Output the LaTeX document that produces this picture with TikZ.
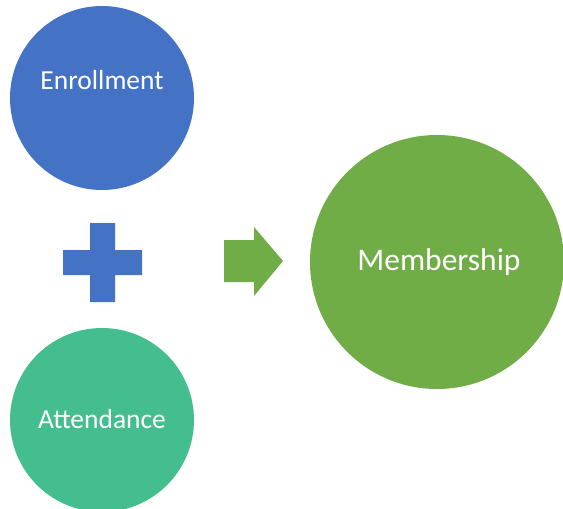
\documentclass[tikz,border=0pt]{standalone}
\usepackage{fontspec}
\setmainfont{Carlito}
\definecolor{cblue}{HTML}{4472C4}
\definecolor{cgreen}{HTML}{70AD47}
\definecolor{cteal}{HTML}{44BE8E}
\begin{document}
\begin{tikzpicture}[x=1pt,y=-1pt,
  blob/.style={circle,inner sep=0pt,text=white},
  lbl/.style={text=white,inner sep=0pt}]
\useasboundingbox (0,0) rectangle (563,509);
\fill[white] (0,0) rectangle (563,509);
\node[blob,fill=cblue,minimum size=184pt] (enr) at (102,98) {};
\node[lbl,font=\fontsize{27.5}{30}\selectfont] (enrt) at (102,80) {Enrollment};
\node[blob,fill=cteal,minimum size=184pt] (att) at (102,420) {};
\node[lbl,font=\fontsize{27.5}{30}\selectfont] (attt) at (102,419) {Attendance};
\node[blob,fill=cgreen,minimum size=254pt] (mem) at (437,262) {};
\node[lbl,font=\fontsize{31.5}{34}\selectfont] (memt) at (439,262) {Membership};
\fill[cblue] (90,223) -- (115,223) -- (115,250) -- (142,250) -- (142,275) -- (115,275) -- (115,302) -- (90,302) -- (90,275) -- (63,275) -- (63,250) -- (90,250) -- cycle;
\fill[cgreen] (224,240) -- (254,240) -- (254,227) -- (283,261) -- (254,296) -- (254,282) -- (224,282) -- cycle;
\end{tikzpicture}
\end{document}
